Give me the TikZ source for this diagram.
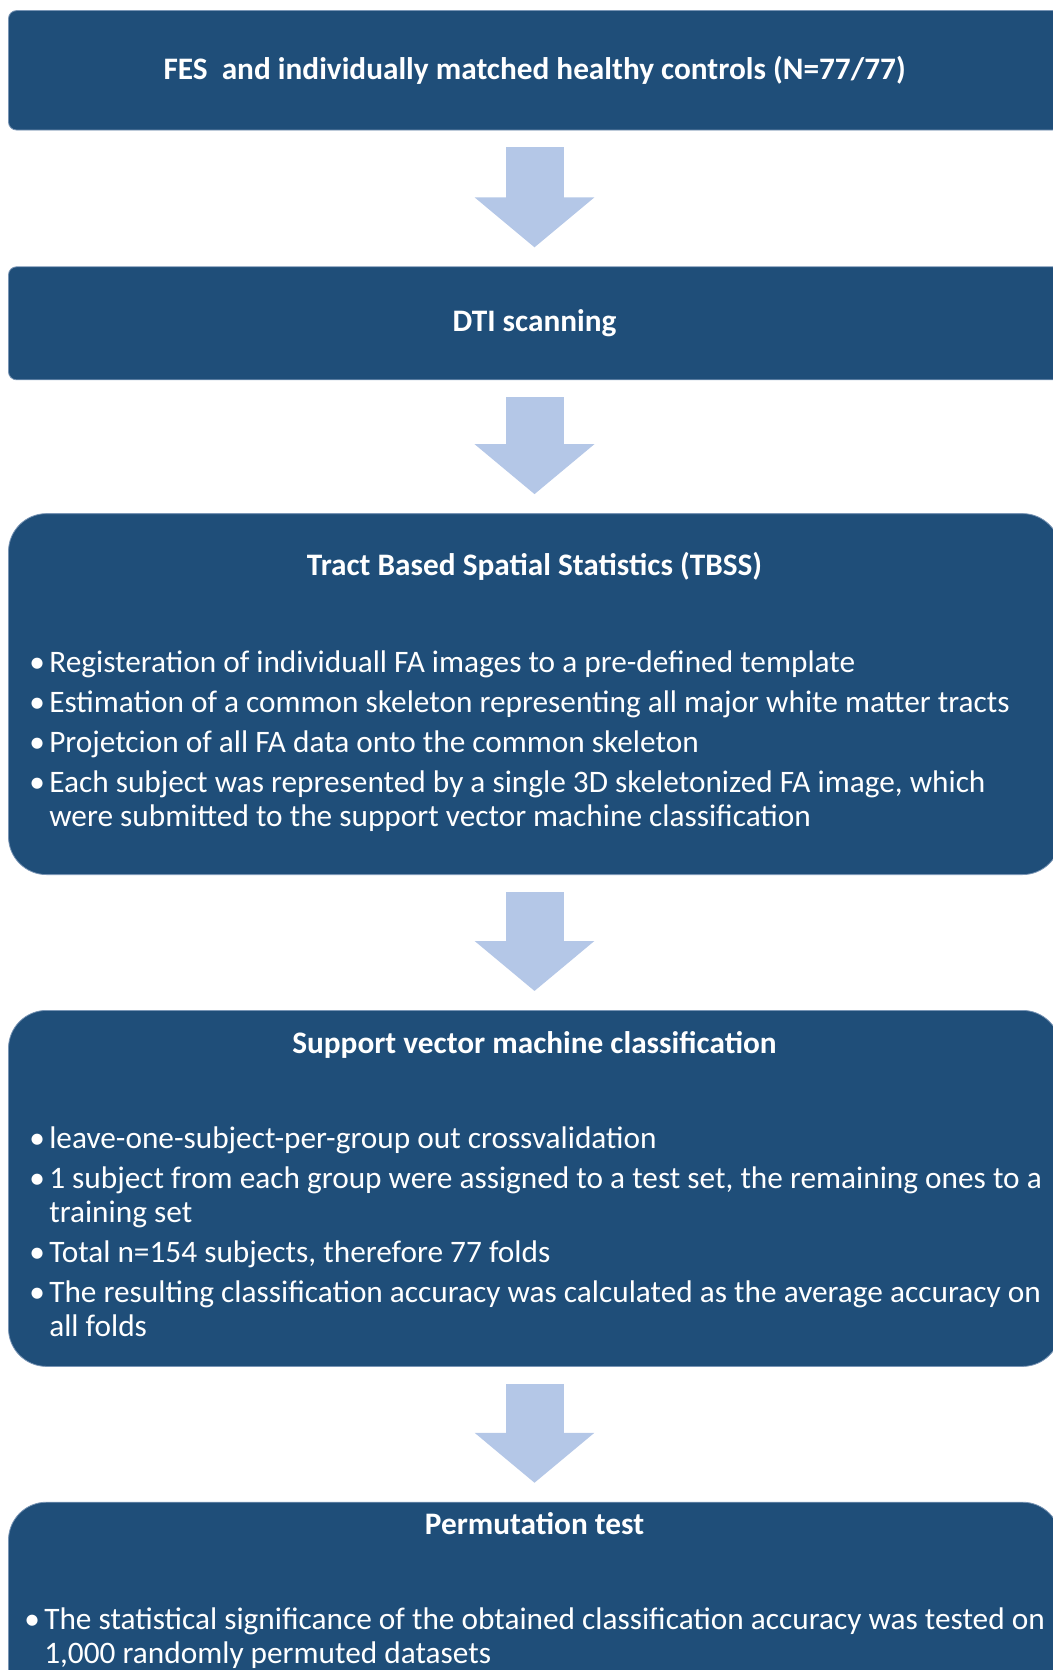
\documentclass[tikz,border=0pt]{standalone}
\usepackage{fontspec}
\setmainfont{Carlito}
\usetikzlibrary{positioning,calc,arrows.meta}
\definecolor{boxblue}{RGB}{31,78,121}
\definecolor{boxedge}{RGB}{120,148,180}
\definecolor{arrowblue}{RGB}{180,199,231}
\tikzset{
    stage/.style={draw=boxedge, line width=0.8pt, fill=boxblue, minimum width=1052pt, inner sep=0pt}, % dark blue panels
    smallround/.style={rounded corners=8pt},
    biground/.style={rounded corners=38pt},
    heading/.style={text=white, font=\fontsize{31.3}{34}\selectfont\bfseries, inner sep=0pt},
    bullets/.style={text=white, font=\fontsize{31.3}{34}\selectfont, align=left, inner sep=0pt, anchor=north west},
    flow/.style={draw=arrowblue, line width=58pt, -{Triangle[length=50pt, width=117pt, fill=arrowblue]}, shorten <=17pt, shorten >=19pt}, % wide block arrows
}
\newcommand{\bitem}{\makebox[20pt][l]{\textbullet}}
\newcommand{\bcont}{\hspace*{20pt}}

\begin{document}
\begin{tikzpicture}[x=1pt, y=1pt]
    \useasboundingbox (0,0) rectangle (1052,-1670);

    % Panels
    \node[stage, smallround, minimum height=119.4pt] (fes) at (534.5,-70.3) {};
    \node[stage, smallround, minimum height=113pt, below=136pt of fes] (dti) {};
    \node[stage, biground, minimum height=361pt, below=133pt of dti] (tbss) {};
    \node[stage, biground, minimum height=356pt, below=135pt of tbss] (svm) {};
    \node[stage, biground, minimum height=230pt, below=135pt of svm] (perm) {};

    % Headings
    \node[heading] (fes-t) at (fes) {FES~ and individually matched healthy controls (N=77/77)};
    \node[heading] (dti-t) at (dti) {DTI scanning};
    \node[heading] (tbss-t) at ([yshift=-53pt]tbss.north) {Tract Based Spatial Statistics (TBSS)};
    \node[heading] (svm-t) at ([yshift=-34.5pt]svm.north) {Support vector machine classification};
    \node[heading] (perm-t) at ([yshift=-22pt]perm.north) {Permutation test};

    % Bullet lists
    \node[bullets] (tbss-l) at ([xshift=21pt, yshift=-137pt]tbss.north west) {%
        \bitem Registeration of individuall FA images to a pre-defined template\\[6pt]
        \bitem Estimation of a common skeleton representing all major white matter tracts\\[6pt]
        \bitem Projetcion of all FA data onto the common skeleton\\[6pt]
        \bitem Each subject was represented by a single 3D skeletonized FA image, which\\
        \bcont were submitted to the support vector machine classification};
    \node[bullets] (svm-l) at ([xshift=21pt, yshift=-117pt]svm.north west) {%
        \bitem leave-one-subject-per-group out crossvalidation\\[6pt]
        \bitem 1 subject from each group were assigned to a test set, the remaining ones to a\\
        \bcont training set\\[6pt]
        \bitem Total n=154 subjects, therefore 77 folds\\[6pt]
        \bitem The resulting classification accuracy was calculated as the average accuracy on\\
        \bcont all folds};
    \node[bullets] (perm-l) at ([xshift=16pt, yshift=-105.5pt]perm.north west) {%
        \bitem The statistical significance of the obtained classification accuracy was tested on\\
        \bcont 1,000 randomly permuted datasets};

    % Arrows
    \draw[flow] (fes) -- (dti);
    \draw[flow] (dti) -- (tbss);
    \draw[flow] (tbss) -- (svm);
    \draw[flow] (svm) -- (perm);
\end{tikzpicture}
\end{document}
